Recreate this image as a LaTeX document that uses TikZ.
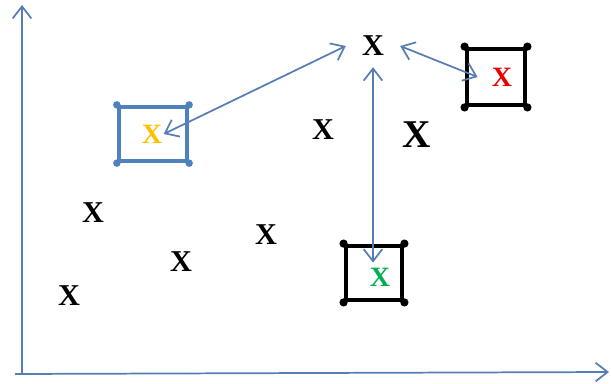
\documentclass[tikz,border=0pt]{standalone}
\usepackage{fontspec}
\setmainfont{Liberation Serif}
\usetikzlibrary{arrows.meta}
\definecolor{axisblue}{RGB}{86,125,180}
\definecolor{boxblue}{RGB}{79,129,189}
\definecolor{xyellow}{RGB}{255,192,0}
\definecolor{xred}{RGB}{235,0,0}
\definecolor{xgreen}{RGB}{0,176,80}
\newcommand{\ptfont}{\bfseries\fontsize{22.7}{24}\selectfont}
\newcommand{\bigptfont}{\bfseries\fontsize{29.5}{31}\selectfont}
\newcommand{\nbfont}{\bfseries\fontsize{21}{22}\selectfont}
\tikzset{
  pt/.style={font=\ptfont, inner sep=0pt},
  nb/.style={font=\nbfont, inner sep=1pt},
  blackbox/.style={draw=black, line width=3.6pt, inner sep=0pt},
  bluebox/.style={draw=boxblue, line width=3.2pt, inner sep=0pt},
  link/.style={draw=axisblue, line width=1.3pt},
  >={Straight Barb[length=9pt,width=14pt,line width=1.3pt]}
}
\begin{document}
\begin{tikzpicture}[x=0.75pt,y=-0.75pt]
  \useasboundingbox (0,0) rectangle (611,383);
  \coordinate (origin) at (22,375);
  \coordinate (y-end) at (22,5);
  \coordinate (x-start) at (15,374);
  \coordinate (x-end) at (609,372);
  \draw [link,->] (origin) to (y-end);
  \draw [link,->] (x-start) to (x-end);
  \node [bluebox, minimum width=51pt, minimum height=40.5pt] (box-yellow) at (153,134) {};
  \node [blackbox, minimum width=43.5pt, minimum height=42pt] (box-red) at (496,77) {};
  \node [blackbox, minimum width=42pt, minimum height=40.5pt] (box-green) at (374,273) {};
  \foreach \c in {north west,north east,south west,south east} {
    \fill [boxblue] (box-yellow.\c) circle (2.8pt);
    \fill (box-red.\c) circle (3.1pt);
    \fill (box-green.\c) circle (3.1pt);
  }
  \node [pt, inner xsep=12pt, inner ysep=8.25pt] (query) at (373,46) {X};
  \node [nb, text=xyellow] (yellow) at (152,134) {X};
  \node [nb, text=xred, inner xsep=10.5pt] (red) at (502,77) {X};
  \node [nb, text=xgreen, inner ysep=3.75pt] (green) at (380,277) {X};
  \node [pt] (p-mid) at (323,130) {X};
  \node [font=\bigptfont, inner sep=0pt] (p-big) at (417,135) {X};
  \node [pt] (p-a) at (93,213) {X};
  \node [pt] (p-b) at (266,235) {X};
  \node [pt] (p-c) at (181,262) {X};
  \node [pt] (p-d) at (69,296) {X};
  \draw [link,<->] (query.west) to (yellow.east);
  \draw [link,<->] (query.east) to (red.west);
  \draw [link,<->] (query.south) to (query.south |- green.north);
\end{tikzpicture}
\end{document}
